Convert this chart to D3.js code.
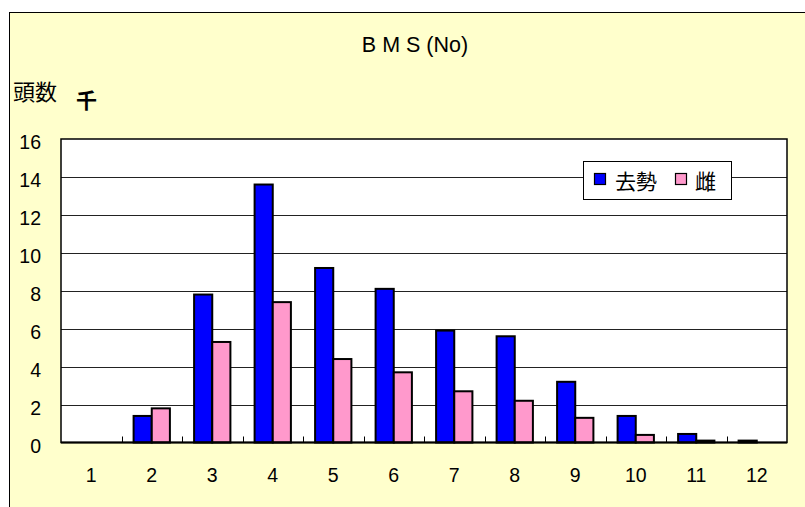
<!DOCTYPE html>
<html>
<head>
<meta charset="utf-8">
<script src="https://cdn.jsdelivr.net/npm/d3@7"></script>
<style>
  html, body { margin: 0; padding: 0; background: #ffffff; }
  svg { display: block; }
  text { font-family: "Liberation Sans", Arial, sans-serif; fill: #000; }
  .cjk { font-family: "Noto Sans CJK JP", "Noto Sans CJK SC", sans-serif; }
</style>
</head>
<body>
<script>
// ---- data ----
const categories = ["1","2","3","4","5","6","7","8","9","10","11","12"];
const seriesNames = ["去勢", "雌"];
const castrated = [0, 1.4, 7.8, 13.6, 9.2, 8.1, 5.9, 5.6, 3.2, 1.4, 0.45, 0.1];
const female    = [0, 1.8, 5.3, 7.4, 4.4, 3.7, 2.7, 2.2, 1.3, 0.4, 0.1, 0];
const yTicks = [0, 2, 4, 6, 8, 10, 12, 14, 16];
const titleText = "B M S (No)";
const yUnitLabel = "頭数";
const yUnitSuffix = "千";
const colors = ["#0000FF", "#FF99CC"];

const W = 805, H = 507;
const svg = d3.select("body").append("svg").attr("width", W).attr("height", H);

// outer chart area
svg.append("rect").attr("x", 9.5).attr("y", 12.5).attr("width", W).attr("height", H)
  .attr("fill", "#FFFFCC").attr("stroke", "#000").attr("stroke-width", 1);

const plot = { left: 61, right: 787, top: 139, bottom: 442.5 };

const x = d3.scaleBand().domain(categories).range([plot.left, plot.right]).padding(0);
const x1 = d3.scaleBand().domain(seriesNames)
  .range([x.bandwidth() * 0.2, x.bandwidth() * 0.8]).padding(0);
const y = d3.scaleLinear().domain([0, 16]).range([plot.bottom, plot.top]);

// plot area
svg.append("rect").attr("x", plot.left).attr("y", plot.top)
  .attr("width", plot.right - plot.left).attr("height", plot.bottom - plot.top)
  .attr("fill", "#fff");

// gridlines
svg.append("g").selectAll("line").data(yTicks.filter(d => d > 0 && d < 16)).join("line")
  .attr("x1", plot.left).attr("x2", plot.right)
  .attr("y1", d => Math.round(y(d)) + 0.5).attr("y2", d => Math.round(y(d)) + 0.5)
  .attr("stroke", "#222").attr("stroke-width", 1);

// bars
const rows = categories.map((c, i) => ({ cat: c, vals: [castrated[i], female[i]] }));
const g = svg.append("g");
rows.forEach(r => {
  r.vals.forEach((v, j) => {
    if (v <= 0) return;
    g.append("rect")
      .attr("x", x(r.cat) + x1(seriesNames[j]))
      .attr("y", y(v))
      .attr("width", x1.bandwidth())
      .attr("height", y(0) - y(v))
      .attr("fill", colors[j])
      .attr("stroke", "#000").attr("stroke-width", 2);
  });
});

// plot border
svg.append("rect").attr("x", plot.left).attr("y", plot.top)
  .attr("width", plot.right - plot.left).attr("height", plot.bottom - plot.top)
  .attr("fill", "none").attr("stroke", "#000").attr("stroke-width", 1.5);
svg.append("line").attr("x1", plot.left).attr("x2", plot.right)
  .attr("y1", plot.bottom).attr("y2", plot.bottom).attr("stroke", "#000").attr("stroke-width", 2);

// inner category ticks
svg.append("g").selectAll("line").data(categories.slice(1)).join("line")
  .attr("x1", d => Math.round(x(d)) + 0.5).attr("x2", d => Math.round(x(d)) + 0.5)
  .attr("y1", plot.bottom).attr("y2", plot.bottom - 6)
  .attr("stroke", "#000").attr("stroke-width", 1);

// y tick labels
svg.append("g").selectAll("text").data(yTicks).join("text")
  .attr("x", 41).attr("y", d => y(d) + 10)
  .attr("text-anchor", "end").attr("font-size", "19.5px")
  .text(d => d);

// x tick labels
svg.append("g").selectAll("text").data(categories).join("text")
  .attr("x", d => x(d) + x.bandwidth() / 2).attr("y", 481.5)
  .attr("text-anchor", "middle").attr("font-size", "19.5px")
  .text(d => d);

// title
svg.append("text").attr("x", 415).attr("y", 51.5).attr("text-anchor", "middle")
  .attr("font-size", "21.5px").text(titleText);

// y unit labels
svg.append("text").attr("class", "cjk").attr("x", 13).attr("y", 100)
  .attr("font-size", "22px").text(yUnitLabel);
svg.append("text").attr("class", "cjk").attr("x", 76).attr("y", 108)
  .attr("font-size", "21px").attr("font-weight", "bold").text(yUnitSuffix);

// legend
const lg = svg.append("g");
lg.append("rect").attr("x", 583.5).attr("y", 161.5).attr("width", 148).attr("height", 38)
  .attr("fill", "#fff").attr("stroke", "#000").attr("stroke-width", 1);
const legendItems = [
  { name: seriesNames[0], color: colors[0], sx: 594, tx: 615 },
  { name: seriesNames[1], color: colors[1], sx: 675, tx: 695 }
];
legendItems.forEach(it => {
  lg.append("rect").attr("x", it.sx + 0.5).attr("y", 173.5).attr("width", 11).attr("height", 11)
    .attr("fill", it.color).attr("stroke", "#000").attr("stroke-width", 1.2);
  lg.append("text").attr("class", "cjk").attr("x", it.tx).attr("y", 189)
    .attr("font-size", "21px").text(it.name);
});
</script>
</body>
</html>
